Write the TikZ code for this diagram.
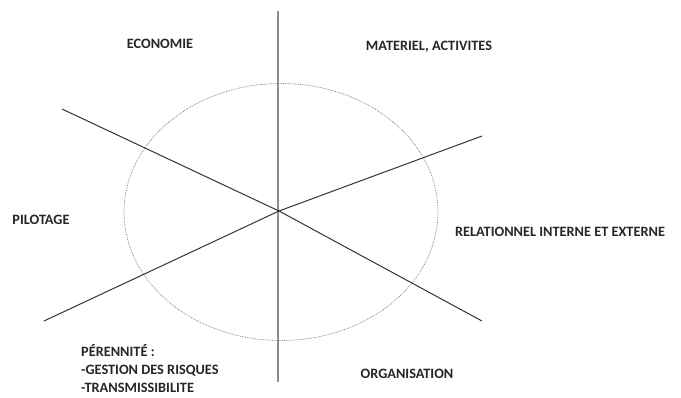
\documentclass[tikz,border=0pt]{standalone}
\usepackage{fontspec}
\setmainfont{Carlito}
\begin{document}
\begin{tikzpicture}[x=1pt,y=-1pt,
  lbl/.style={font=\bfseries\fontsize{14.3}{18}\selectfont, text=black!85, inner sep=0pt},
  axis/.style={line width=1.2pt, draw=black!45},
  diag/.style={line width=1pt, draw=black!80},
  ring/.style={line width=0.7pt, draw=black!55, densely dotted}]
\useasboundingbox (0,0) rectangle (681,397);
\coordinate (c) at (279,211);
\coordinate (vt) at (278,11);
\coordinate (vb) at (278,382);
\coordinate (a1) at (62,109);
\coordinate (a2) at (482,321);
\coordinate (b1) at (44,321);
\coordinate (b2) at (482,136);
\draw[ring] (281,212) ellipse [x radius=157, y radius=128.5];
\draw[axis] (vt) -- (vb);
\draw[diag] (a1) -- (c) -- (a2);
\draw[diag] (b1) -- (c) -- (b2);
\node[lbl] (eco) at (160,44) {ECONOMIE};
\node[lbl] (mat) at (429,47) {MATERIEL, ACTIVITES};
\node[lbl] (pil) at (41,220) {PILOTAGE};
\node[lbl] (rel) at (560,232) {RELATIONNEL INTERNE ET EXTERNE};
\node[lbl] (org) at (407,374) {ORGANISATION};
\node[lbl, anchor=north west, align=left] (per) at (81,344) {PÉRENNITÉ :\\-GESTION DES RISQUES\\-TRANSMISSIBILITE};
\end{tikzpicture}
\end{document}
